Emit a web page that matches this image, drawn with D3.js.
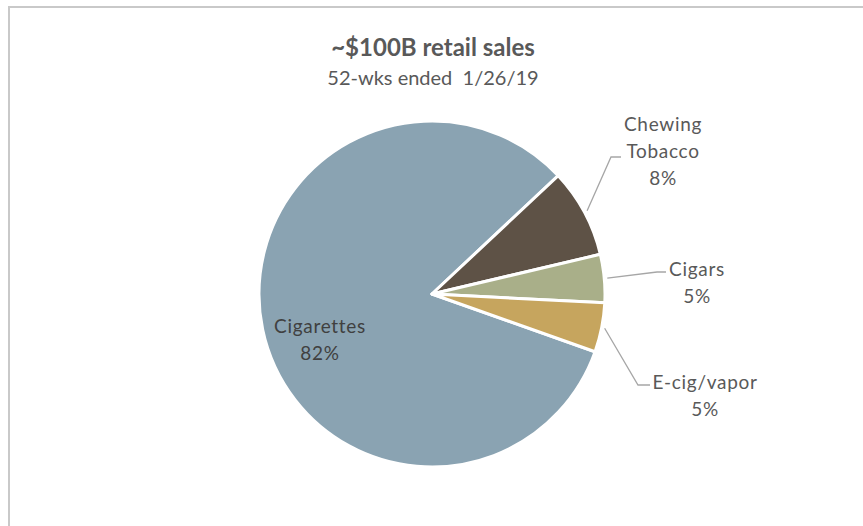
<!DOCTYPE html>
<html>
<head>
<meta charset="utf-8">
<script src="https://cdn.jsdelivr.net/npm/d3@7"></script>
<style>
  html, body { margin: 0; padding: 0; background: #fff; }
  svg { display: block; }
  text { white-space: pre; }
</style>
</head>
<body>
<svg id="chart" width="863" height="526"></svg>
<script>
// ---- data ----
const categories = ["Cigarettes", "Chewing Tobacco", "Cigars", "E-cig/vapor"];
const shares = [82.6, 8.3, 4.5, 4.6];
const pctLabels = ["82%", "8%", "5%", "5%"];
const labelLines = [["Cigarettes"], ["Chewing", "Tobacco"], ["Cigars"], ["E-cig/vapor"]];
const colors = ["#8AA3B2", "#5E5246", "#A9AF89", "#C6A55E"];
const titleText = "~$100B retail sales";
const subtitleText = "52-wks ended  1/26/19";

// ---- layout ----
const W = 863, H = 526;
const cx = 432, cy = 294, R = 173;
const startDeg = 109.5;
const FONT = "Lato, 'Open Sans', sans-serif";
const textColor = "#595959";
// label centre (x, first baseline) and leader elbow for each category
const labelLayout = [
  { x: 320, y: 333, leader: null },
  { x: 663, y: 131, leader: { elbow: [611, 157], end: [621, 157] } },
  { x: 697, y: 276, leader: { elbow: [657, 272], end: [666, 272] } },
  { x: 705, y: 389, leader: { elbow: [638, 385], end: [650, 385] } }
];
const lineGap = 27;

const svg = d3.select("#chart");

// frame
svg.append("rect")
  .attr("x", 9).attr("y", 7)
  .attr("width", W + 20).attr("height", H + 20)
  .attr("fill", "#fff")
  .attr("stroke", "#C9C9C9").attr("stroke-width", 2);

// titles
svg.append("text")
  .attr("x", 433).attr("y", 56)
  .attr("text-anchor", "middle")
  .attr("font-family", FONT).attr("font-weight", "bold")
  .attr("font-size", 24).attr("fill", textColor)
  .text(titleText);
svg.append("text")
  .attr("x", 433).attr("y", 85)
  .attr("text-anchor", "middle")
  .attr("font-family", FONT)
  .attr("font-size", 20).attr("fill", textColor)
  .text(subtitleText);

// pie
const toRad = d => d * Math.PI / 180;
const pie = d3.pie().sort(null)
  .startAngle(toRad(startDeg))
  .endAngle(toRad(startDeg) + 2 * Math.PI)
  .value(d => d.value);
const data = categories.map((c, i) => ({ name: c, value: shares[i], i }));
const arcs = pie(data);
const arc = d3.arc().innerRadius(0).outerRadius(R);

const g = svg.append("g").attr("transform", `translate(${cx},${cy})`);
g.selectAll("path.slice")
  .data(arcs)
  .join("path")
  .attr("class", "slice")
  .attr("d", arc)
  .attr("fill", d => colors[d.data.i])
  .attr("stroke", "#fff")
  .attr("stroke-width", 3)
  .attr("stroke-linejoin", "round");

// leader lines
arcs.forEach(d => {
  const L = labelLayout[d.data.i].leader;
  if (!L) return;
  const mid = (d.startAngle + d.endAngle) / 2;
  const sx = cx + (R + 3) * Math.sin(mid);
  const sy = cy - (R + 3) * Math.cos(mid);
  svg.append("polyline")
    .attr("points", [[sx, sy], L.elbow, L.end].map(p => p.join(",")).join(" "))
    .attr("fill", "none")
    .attr("stroke", "#A6A6A6")
    .attr("stroke-width", 1.3);
});

// labels
arcs.forEach(d => {
  const i = d.data.i;
  const pos = labelLayout[i];
  const t = svg.append("text")
    .attr("text-anchor", "middle")
    .attr("font-family", FONT)
    .attr("font-size", 19)
    .attr("letter-spacing", 0.7)
    .attr("fill", i === 0 ? "#404040" : textColor);
  const lines = labelLines[i].concat([pctLabels[i]]);
  lines.forEach((ln, k) => {
    t.append("tspan")
      .attr("x", pos.x)
      .attr("y", pos.y + k * lineGap)
      .text(ln);
  });
});
</script>
</body>
</html>
